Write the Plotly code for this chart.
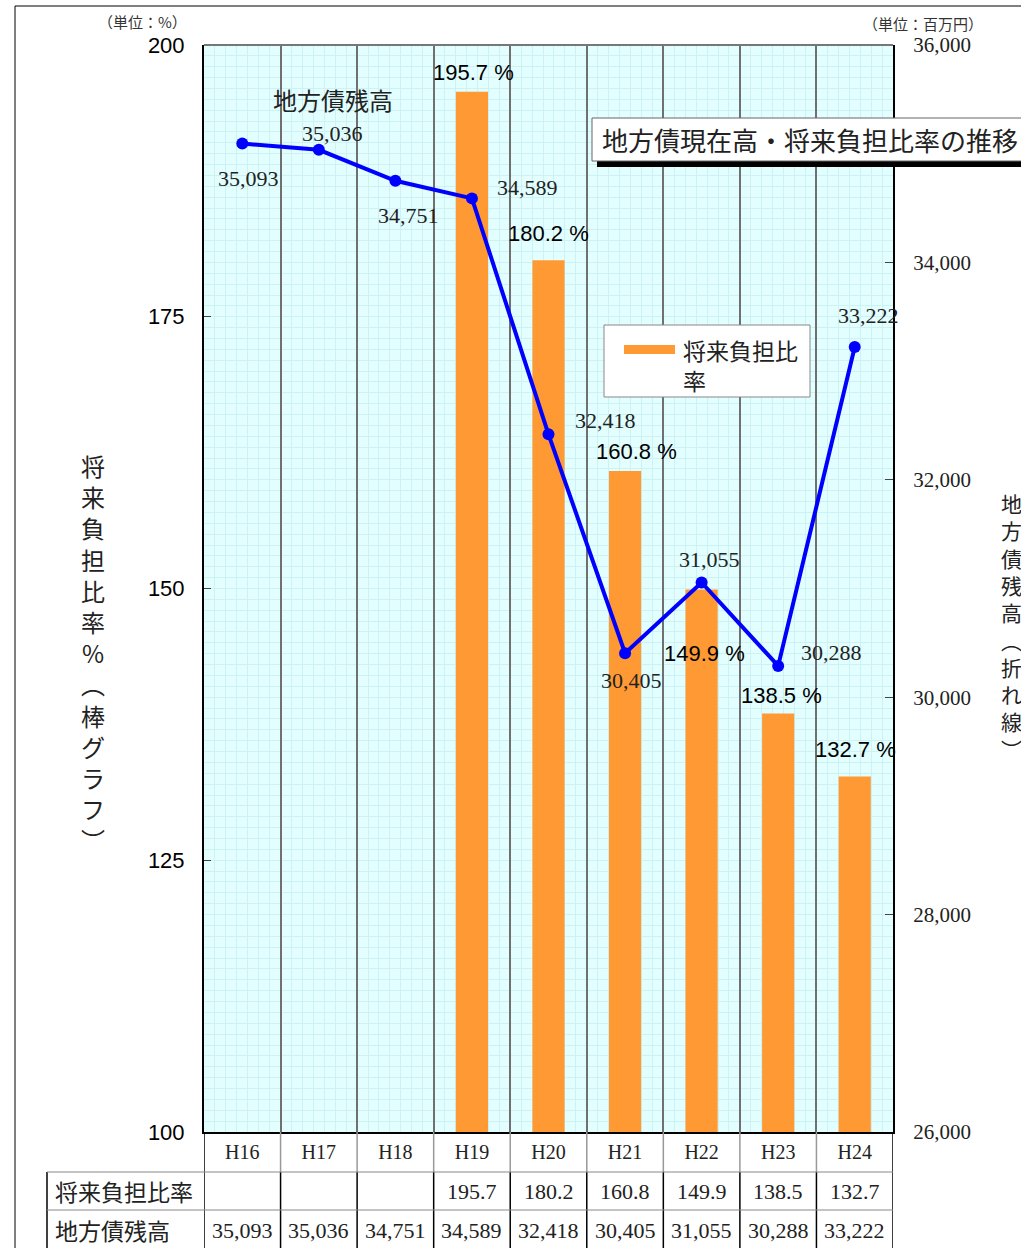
import plotly.graph_objects as go

# ---------------- data ----------------
categories = ["H16", "H17", "H18", "H19", "H20", "H21", "H22", "H23", "H24"]
burden_ratio = [None, None, None, 195.7, 180.2, 160.8, 149.9, 138.5, 132.7]   # 将来負担比率 (%)
debt_balance = [35093, 35036, 34751, 34589, 32418, 30405, 31055, 30288, 33222]  # 地方債残高 (百万円)
left_ticks = [100, 125, 150, 175, 200]
right_ticks = [26000, 28000, 30000, 32000, 34000, 36000]

row_label_ratio = "将来負担比率"
row_label_debt = "地方債残高"
chart_title = "地方債現在高・将来負担比率の推移"
left_title = "将来負担比率%︵棒グラフ︶"
right_title = "地方債残高︵折れ線︶"

# label offsets (px) -- layout only
line_label_offsets = [(6, -35), (14, 16), (13, -35), (56, 11), (57, 14), (6, -27), (8, 23), (53, 13), (14, 31)]
bar_label_offsets = [None, None, None, (2, 19), (0, 27), (11, 20), (3, -64), (3, 18), (1, 27)]

# ---------------- style ----------------
ORANGE = "#FF9933"
BLUE = "#0000FF"
BG = "#E2FEFF"
FINE = "#CCF2F4"
SEP = "#707070"
SERIF = "Liberation Serif, Noto Sans CJK JP"
SANS = "Liberation Sans, Noto Sans CJK JP"
CJK = "Noto Sans CJK JP"

W, H = 1021, 1248
L, R, T, B = 204, 893, 45, 1132


def px(x):
    return (x - L) / (R - L)


def py(y):
    return (B - y) / (B - T)


xs = list(range(len(categories)))

fig = go.Figure()
fig.add_trace(go.Bar(x=xs, y=burden_ratio, width=0.42, marker=dict(color=ORANGE, line=dict(width=0)),
                     yaxis="y", xaxis="x", showlegend=False, hoverinfo="skip"))
fig.add_trace(go.Scatter(x=xs, y=debt_balance, xaxis="x2", yaxis="y2", mode="lines+markers",
                         line=dict(color=BLUE, width=4), marker=dict(size=12, color=BLUE),
                         showlegend=False, hoverinfo="skip"))

annotations = []


def ann(x, y, text, size, family=CJK, xanchor="center", yanchor="middle", xref="paper", yref="paper",
        color="#222", **kw):
    annotations.append(dict(x=x, y=y, xref=xref, yref=yref, text=text, showarrow=False,
                            xanchor=xanchor, yanchor=yanchor,
                            font=dict(family=family, size=size, color=color), **kw))


# line labels
for i, v in enumerate(debt_balance):
    dx, dy = line_label_offsets[i]
    ann(i, v, f"{v:,}", 22, family=SERIF, xref="x2", yref="y2", xshift=dx, yshift=dy)
# bar labels
for i, v in enumerate(burden_ratio):
    if v is None:
        continue
    dx, dy = bar_label_offsets[i]
    ann(i, v, f"{v:.1f} %", 22, family=SANS, xref="x", yref="y", xshift=dx, yshift=dy, color="black")

# unit labels
ann(px(142), py(21), "（単位：%）", 15, color="#333")
ann(px(923), py(23), "（単位：百万円）", 15, color="#333")
# series label in plot
ann(px(333), py(100), row_label_debt, 24)
# chart title
ann(px(600), py(140), chart_title, 26, xanchor="left")
# axis titles (vertical)
ann(px(93), py(652), "<br>".join(left_title), 24)
ann(px(1011), py(626), "<br>".join(right_title), 21)
# legend text
ann(px(681), py(365), "将来負担比<br>率", 23, xanchor="left", align="left")
# table row labels
ann(px(53), py(1191), row_label_ratio, 23, xanchor="left")
ann(px(53), py(1230), row_label_debt, 23, xanchor="left")
# table values
for i in xs:
    if burden_ratio[i] is not None:
        ann(i, py(1191), f"{burden_ratio[i]:.1f}", 22, family=SERIF, xref="x")
    ann(i, py(1230), f"{debt_balance[i]:,}", 22, family=SERIF, xref="x")

shapes = []
# outer frame
shapes.append(dict(type="line", xref="paper", yref="paper", x0=px(15), x1=px(1030), y0=py(6), y1=py(6),
                   line=dict(color="black", width=1)))
shapes.append(dict(type="line", xref="paper", yref="paper", x0=px(15), x1=px(15), y0=py(6), y1=py(1260),
                   line=dict(color="black", width=1)))
# top border of plot
shapes.append(dict(type="line", xref="paper", yref="paper", x0=0, x1=1, y0=1, y1=1,
                   line=dict(color="#777", width=2)))
# title box with shadow
shapes.append(dict(type="rect", xref="paper", yref="paper", x0=px(597), x1=px(1060), y0=py(167), y1=py(124),
                   fillcolor="black", line=dict(width=0)))
shapes.append(dict(type="rect", xref="paper", yref="paper", x0=px(592), x1=px(1060), y0=py(161), y1=py(118),
                   fillcolor="white", line=dict(color="#666", width=1)))
# legend box
shapes.append(dict(type="rect", xref="paper", yref="paper", x0=px(604), x1=px(810), y0=py(397), y1=py(325),
                   fillcolor="white", line=dict(color="#888", width=1)))
shapes.append(dict(type="rect", xref="paper", yref="paper", x0=px(624), x1=px(675), y0=py(354), y1=py(345),
                   fillcolor=ORANGE, line=dict(width=0)))
# table grid
for i in range(len(categories) - 1):
    shapes.append(dict(type="line", xref="x", yref="paper", x0=i + 0.5, x1=i + 0.5, y0=py(1132), y1=py(1172),
                       line=dict(color="#999", width=1.5)))
    shapes.append(dict(type="line", xref="x", yref="paper", x0=i + 0.5, x1=i + 0.5, y0=py(1172), y1=py(1250),
                       line=dict(color="black", width=1.5)))
for xe in (-0.5, len(categories) - 0.5):
    shapes.append(dict(type="line", xref="x", yref="paper", x0=xe, x1=xe, y0=py(1132), y1=py(1250),
                       line=dict(color="black", width=1.5)))
shapes.append(dict(type="line", xref="paper", yref="paper", x0=px(47), x1=px(47), y0=py(1172), y1=py(1250),
                   line=dict(color="black", width=1.5)))
for yy in (1172, 1210):
    shapes.append(dict(type="line", xref="paper", yref="paper", x0=px(47), x1=1, y0=py(yy), y1=py(yy),
                       line=dict(color="#888", width=1)))

xr = [-0.5, len(categories) - 0.5]
fig.update_layout(
    width=W, height=H, autosize=False,
    margin=dict(l=L, r=W - R, t=T, b=H - B, pad=0),
    paper_bgcolor="white", plot_bgcolor=BG,
    xaxis=dict(range=xr, tickmode="array", tickvals=xs, ticktext=categories, ticks="",
               showgrid=False, zeroline=False, showline=True, linecolor="black", linewidth=2,
               tickfont=dict(family=SERIF, size=20, color="#222"), ticklabelstandoff=1,
               minor=dict(tickmode="linear", tick0=-0.5, dtick=1 / 7, showgrid=True, gridcolor=FINE,
                          gridwidth=1, ticks="")),
    xaxis2=dict(range=xr, overlaying="x", anchor="y2", side="bottom", tickmode="array",
                tickvals=[i + 0.5 for i in range(len(categories) - 1)], showticklabels=False, ticks="",
                showgrid=True, gridcolor=SEP, gridwidth=1.5, zeroline=False, showline=False),
    yaxis=dict(range=[100, 200], tickmode="array", tickvals=left_ticks, ticks="inside", ticklen=7,
               tickcolor="#444", tickwidth=1, showline=True, linecolor="black", linewidth=2,
               showgrid=True, gridcolor=FINE, zeroline=False,
               tickfont=dict(family=SANS, size=22, color="black"), ticklabelstandoff=13,
               minor=dict(tickmode="linear", tick0=100, dtick=1, showgrid=True, gridcolor=FINE,
                          gridwidth=1, ticks="")),
    yaxis2=dict(range=[26000, 36000], overlaying="y", anchor="x2", side="right", tickmode="array",
                tickvals=right_ticks, tickformat=",", ticks="inside", ticklen=8, tickcolor="#444",
                showline=True, linecolor="black", linewidth=2, showgrid=False, zeroline=False,
                tickfont=dict(family=SERIF, size=21, color="#222"), ticklabelstandoff=14),
    annotations=annotations,
    shapes=shapes,
    showlegend=False,
)

fig.write_html("out.html", config={"displayModeBar": False},
               post_script="document.body.style.margin='0';document.body.style.overflow='hidden';")
